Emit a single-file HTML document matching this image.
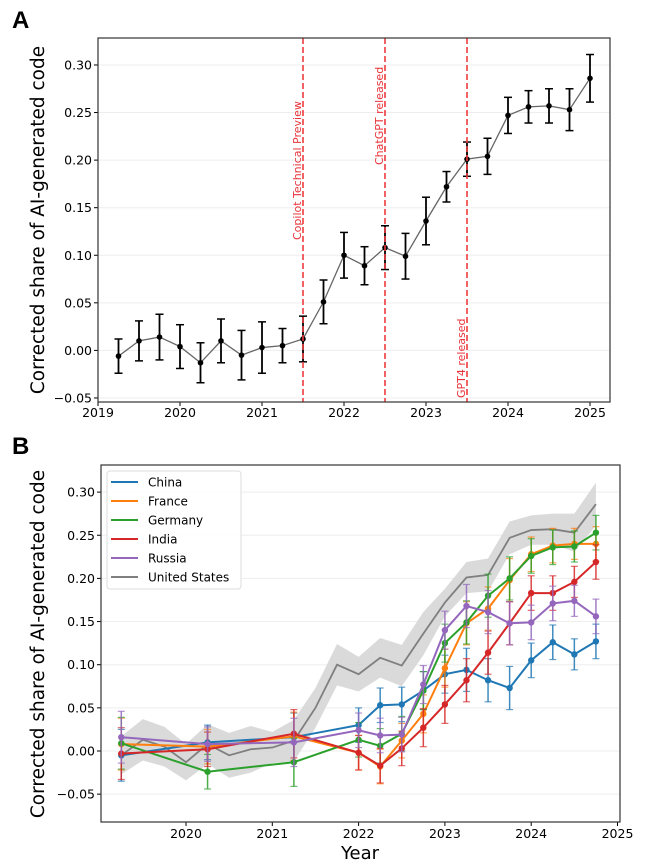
<!DOCTYPE html>
<html><head><meta charset="utf-8"><style>
body{margin:0;background:#fff;width:652px;height:865px;overflow:hidden}
svg{display:block;font-family:"DejaVu Sans","Liberation Sans",sans-serif}
</style></head><body>
<svg id="fig" width="652" height="865" viewBox="0 0 652 865" xmlns="http://www.w3.org/2000/svg">
<text x="12" y="28" font-size="24" font-weight="bold" font-family="Liberation Sans, sans-serif">A</text>
<text x="12" y="454" font-size="24" font-weight="bold" font-family="Liberation Sans, sans-serif">B</text>
<g id="pa"></g>
<g id="pb"></g>
</svg>
<script>
// Panel A data
const aYears = [2019.25,2019.5,2019.75,2020,2020.25,2020.5,2020.75,2021,2021.25,2021.5,2021.75,2022,2022.25,2022.5,2022.75,2023,2023.25,2023.5,2023.75,2024,2024.25,2024.5,2024.75,2025];
const aValues = [-0.006,0.010,0.014,0.004,-0.013,0.010,-0.005,0.003,0.005,0.012,0.051,0.100,0.089,0.108,0.099,0.136,0.172,0.201,0.204,0.247,0.256,0.257,0.253,0.286];
const aErrors = [0.018,0.021,0.024,0.023,0.021,0.023,0.026,0.027,0.018,0.024,0.023,0.024,0.020,0.023,0.024,0.025,0.016,0.018,0.019,0.019,0.017,0.018,0.022,0.025];
const aEvents = [2021.5,2022.5,2023.5];
const aEventLabels = ["Copilot Technical Preview","ChatGPT released","GPT4 released"];
const aXTicks = [2019,2020,2021,2022,2023,2024,2025];
const yTicks = [-0.05,0,0.05,0.10,0.15,0.20,0.25,0.30];
const yTickLabels = ["\u22120.05","0.00","0.05","0.10","0.15","0.20","0.25","0.30"];
// Panel B data
const bYears = [2019.25,2020.25,2021.25,2022,2022.25,2022.5,2022.75,2023,2023.25,2023.5,2023.75,2024,2024.25,2024.5,2024.75];
const countries = ["China","France","Germany","India","Russia"];
const colors = ["#1f77b4","#ff7f0e","#2ca02c","#d62728","#9467bd"];
const chinaVals = [-0.005,0.010,0.016,0.030,0.053,0.054,0.070,0.089,0.094,0.082,0.073,0.105,0.126,0.112,0.127];
const franceVals = [0.008,0.005,0.017,-0.002,-0.018,0.012,0.043,0.096,0.148,0.165,0.198,0.228,0.238,0.240,0.240];
const germanyVals = [0.009,-0.024,-0.013,0.013,0.006,0.020,0.070,0.125,0.149,0.180,0.200,0.226,0.236,0.237,0.253];
const indiaVals = [-0.003,0.002,0.020,-0.002,-0.017,0.003,0.027,0.054,0.082,0.114,0.148,0.183,0.183,0.196,0.219];
const russiaVals = [0.016,0.008,0.010,0.024,0.018,0.019,0.077,0.140,0.168,0.161,0.148,0.149,0.171,0.174,0.156];
const bErr = [0.030,0.020,0.028,0.020,0.020,0.020,0.022,0.022,0.025,0.025,0.025,0.020,0.020,0.018,0.020];
const usYears = [2019.25,2019.5,2019.75,2020,2020.25,2020.5,2020.75,2021,2021.25,2021.5,2021.75,2022,2022.25,2022.5,2022.75,2023,2023.25,2023.5,2023.75,2024,2024.25,2024.5,2024.75];
const usVals = [-0.005,0.013,0.005,-0.013,0.008,-0.005,0.002,0.004,0.012,0.050,0.100,0.089,0.108,0.099,0.136,0.172,0.201,0.204,0.247,0.256,0.257,0.253,0.286];
const usErr = [0.022,0.024,0.023,0.021,0.023,0.026,0.027,0.018,0.024,0.023,0.024,0.020,0.023,0.024,0.025,0.016,0.018,0.019,0.019,0.017,0.018,0.022,0.025];
const bXTicks = [2020,2021,2022,2023,2024,2025];

const NS="http://www.w3.org/2000/svg";
function mk(parent,tag,attrs,txt){const e=document.createElementNS(NS,tag);for(const k in attrs)e.setAttribute(k,attrs[k]);if(txt!==undefined)e.textContent=txt;parent.appendChild(e);return e;}

// ---- Panel A ----
const pa=document.getElementById('pa');
const axA={l:98,r:610,t:38,b:402};
const xA=y=>98+(y-2019)*82;
const yA=v=>350.4-v*951.4;
yTicks.forEach((t,i)=>{
  const g=mk(pa,'line',{x1:axA.l,x2:axA.r,y1:yA(t),y2:yA(t),stroke:'#eee','stroke-width':1});
  
  
  mk(pa,'line',{x1:axA.l-4,x2:axA.l,y1:yA(t),y2:yA(t),stroke:'#000'});
  const tx=mk(pa,'text',{x:axA.l-6,y:yA(t)+4.5,'text-anchor':'end','font-size':12.5},yTickLabels[i]);
  
  
});
aXTicks.forEach(t=>{
  mk(pa,'line',{x1:xA(t),x2:xA(t),y1:axA.b,y2:axA.b+4,stroke:'#000'});
  const tx=mk(pa,'text',{x:xA(t),y:axA.b+15,'text-anchor':'middle','font-size':12.5},String(t));
  
  
});
mk(pa,'polyline',{points:aYears.map((y,i)=>xA(y)+','+yA(aValues[i])).join(' '),fill:'none',stroke:'#666','stroke-width':1.3});
aYears.forEach((y,i)=>{
  const x=xA(y),v=aValues[i],e=aErrors[i];
  const g=mk(pa,'g',{});
  
  
  mk(g,'line',{x1:x,x2:x,y1:yA(v-e),y2:yA(v+e),stroke:'#000','stroke-width':1.8});
  mk(g,'line',{x1:x-4,x2:x+4,y1:yA(v-e),y2:yA(v-e),stroke:'#000','stroke-width':1.5});
  mk(g,'line',{x1:x-4,x2:x+4,y1:yA(v+e),y2:yA(v+e),stroke:'#000','stroke-width':1.5});
  mk(g,'circle',{cx:x,cy:yA(v),r:2.8,fill:'#000'});
});
const evY=[240,165,398];
aEvents.forEach((t,i)=>{
  const l=mk(pa,'line',{x1:xA(t),x2:xA(t),y1:axA.t,y2:axA.b,stroke:'#f03c3c','stroke-width':1.6,'stroke-dasharray':'6,3'});
  
  
  const tx=mk(pa,'text',{x:0,y:0,'font-size':11,fill:'#e8333a',transform:`translate(${xA(t)-2},${evY[i]}) rotate(-90)`},aEventLabels[i]);
  
  
});
mk(pa,'rect',{x:axA.l,y:axA.t,width:axA.r-axA.l,height:axA.b-axA.t,fill:'none',stroke:'#333','stroke-width':1.2});
const tA=mk(pa,'text',{x:0,y:0,'font-size':18.5,'text-anchor':'middle',transform:'translate(44,220) rotate(-90)'},'Corrected share of AI-generated code');



// ---- Panel B ----
const pb=document.getElementById('pb');
const axB={l:101,r:620,t:465,b:822};
const xB=y=>186+(y-2020)*86.3;
const yB=v=>751-v*863;
yTicks.forEach((t,i)=>{
  mk(pb,'line',{x1:axB.l,x2:axB.r,y1:yB(t),y2:yB(t),stroke:'#eee','stroke-width':1});
  mk(pb,'line',{x1:axB.l-4,x2:axB.l,y1:yB(t),y2:yB(t),stroke:'#000'});
  const tx=mk(pb,'text',{x:axB.l-6,y:yB(t)+4.5,'text-anchor':'end','font-size':12.5},yTickLabels[i]);
  
  
});
bXTicks.forEach(t=>{
  mk(pb,'line',{x1:xB(t),x2:xB(t),y1:axB.b,y2:axB.b+4,stroke:'#000'});
  const tx=mk(pb,'text',{x:xB(t),y:axB.b+16,'text-anchor':'middle','font-size':12.5},String(t));
  
  
});
// US band
const up=usYears.map((y,i)=>xB(y)+','+yB(usVals[i]+usErr[i]));
const dn=usYears.map((y,i)=>xB(y)+','+yB(usVals[i]-usErr[i])).reverse();
const band=mk(pb,'polygon',{points:up.concat(dn).join(' '),fill:'#d3d3d3',opacity:0.85});


const usl=mk(pb,'polyline',{points:usYears.map((y,i)=>xB(y)+','+yB(usVals[i])).join(' '),fill:'none',stroke:'#7f7f7f','stroke-width':1.8});


const allVals=[chinaVals,franceVals,germanyVals,indiaVals,russiaVals];
allVals.forEach((vals,s)=>{
  const c=colors[s];
  const g=mk(pb,'g',{});
  
  
  bYears.forEach((y,i)=>{
    const x=xB(y),v=vals[i],e=bErr[i];
    mk(g,'line',{x1:x,x2:x,y1:yB(v-e),y2:yB(v+e),stroke:c,'stroke-width':1.5,opacity:0.85});
    mk(g,'line',{x1:x-3.5,x2:x+3.5,y1:yB(v-e),y2:yB(v-e),stroke:c,'stroke-width':1.2,opacity:0.7});
    mk(g,'line',{x1:x-3.5,x2:x+3.5,y1:yB(v+e),y2:yB(v+e),stroke:c,'stroke-width':1.2,opacity:0.7});
  });
  mk(g,'polyline',{points:bYears.map((y,i)=>xB(y)+','+yB(vals[i])).join(' '),fill:'none',stroke:c,'stroke-width':2});
  bYears.forEach((y,i)=>{
    const p=mk(g,'circle',{cx:xB(y),cy:yB(vals[i]),r:3.2,fill:c});
    
    
  });
});
mk(pb,'rect',{x:axB.l,y:axB.t,width:axB.r-axB.l,height:axB.b-axB.t,fill:'none',stroke:'#333','stroke-width':1.2});
// legend
const lg=mk(pb,'g',{});


mk(lg,'rect',{x:107,y:471,width:134,height:118,rx:3,fill:'#fff',stroke:'#ddd','fill-opacity':0.9});
const legNames=countries.concat(['United States']);
const legColors=colors.concat(['#7f7f7f']);
legNames.forEach((n,i)=>{
  const y=482+i*19;
  const e=mk(lg,'g',{});
  
  
  mk(e,'line',{x1:111,x2:138,y1:y,y2:y,stroke:legColors[i],'stroke-width':2});
  mk(e,'text',{x:148,y:y+4.5,'font-size':12},n);
});
const tB=mk(pb,'text',{x:0,y:0,'font-size':18.5,'text-anchor':'middle',transform:'translate(44,644) rotate(-90)'},'Corrected share of AI-generated code');


const xt=mk(pb,'text',{x:360,y:859,'font-size':18,'text-anchor':'middle'},'Year');


</script>
</body></html>
